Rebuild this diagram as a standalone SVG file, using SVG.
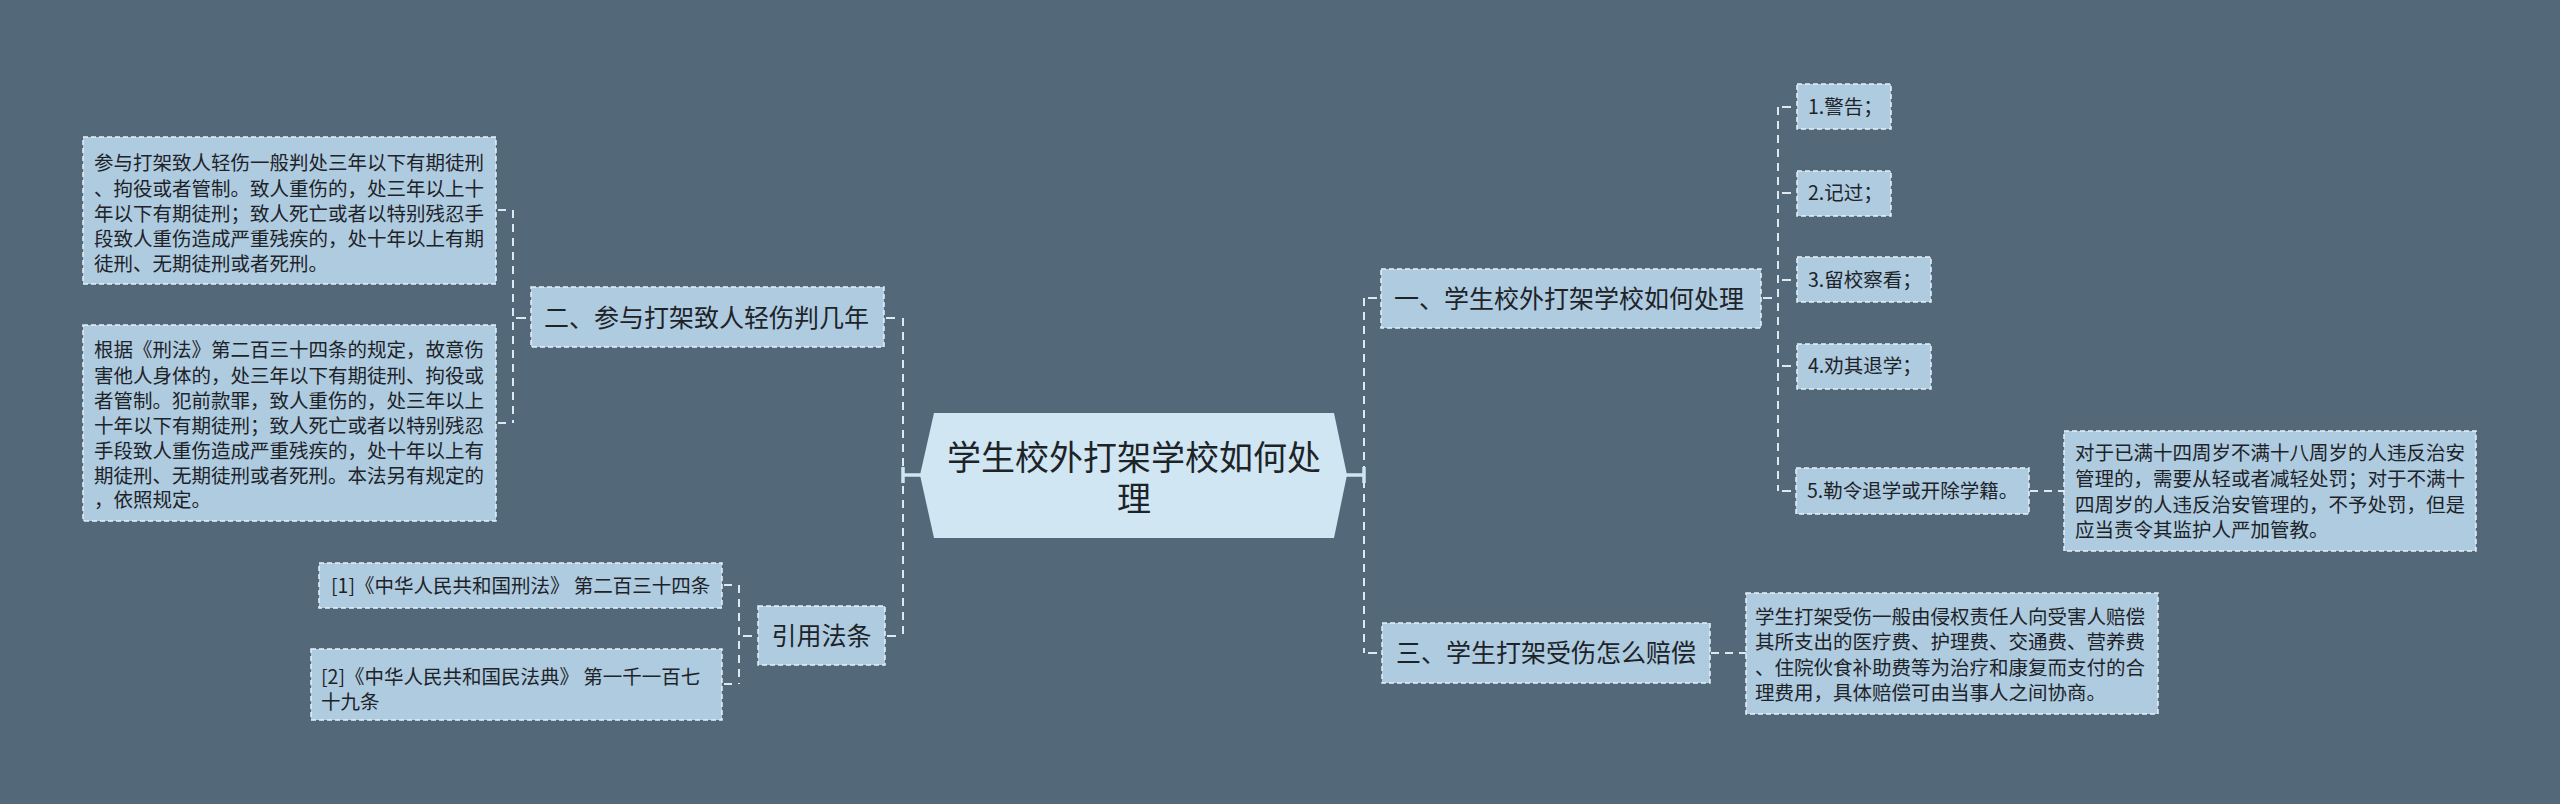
<svg xmlns="http://www.w3.org/2000/svg" width="2560" height="804" viewBox="0 0 2560 804">
<style>
.bg{fill:#536878}
.box{fill:#aecbe0;stroke:#e6f1f8;stroke-width:1.5;stroke-dasharray:5 3}
.root{fill:#d0e6f3}
.t{font-family:"Noto Sans CJK SC","Noto Sans",sans-serif;fill:#1e2328}
.s{font-size:19.5px}
.m{font-size:25px}
.l{font-size:34px}
.dash{fill:none;stroke:#dde9f1;stroke-width:2;stroke-dasharray:8 6}
.tick{fill:none;stroke:#dde9f1;stroke-width:2}
.solid{fill:none;stroke:#cfe5f2;stroke-width:3.5}
</style>
<rect class="bg" x="0" y="0" width="2560" height="804"/>
<g id="connectors">
<path class="dash" d="M513 210 V423"/>
<path class="tick" d="M498 210 H506 M498 423 H506 M516 318 H526"/>
<path class="dash" d="M903 318 V636"/>
<path class="tick" d="M886 318 H895 M887 636 H896"/>
<path class="solid" d="M903 475 H921 M903 467 V483"/>
<path class="dash" d="M739 585 V684"/>
<path class="tick" d="M724 585 H732 M724 684 H732 M743 636 H752"/>
<path class="dash" d="M1364 298 V653"/>
<path class="tick" d="M1368 298 H1377 M1368 653 H1377"/>
<path class="solid" d="M1346 475 H1364 M1364 467 V483"/>
<path class="dash" d="M1778 107 V491"/>
<path class="tick" d="M1763 298 H1772 M1782 107 H1791 M1782 193 H1791 M1782 280 H1791 M1782 366 H1791 M1782 491 H1791"/>
<path class="dash" d="M2030 491 H2064"/>
<path class="dash" d="M1711 653 H1746"/>
</g>
<g id="root">
<polygon class="root" points="934,413 1334,413 1347,475 1334,538 934,538 920,475"/>
<text class="t l" text-anchor="middle"><tspan x="1134" y="470">学生校外打架学校如何处</tspan><tspan x="1134" y="511">理</tspan></text>
</g>
<g id="n2">
<rect class="box" x="531" y="287" width="353" height="60"/>
<text class="t m" x="544" y="327">二、参与打架致人轻伤判几年</text>
</g>
<g id="n2a">
<rect class="box" x="83" y="137" width="413" height="147"/>
<text class="t s" x="94" y="170">参与打架致人轻伤一般判处三年以下有期徒刑</text>
<text class="t s" x="94" y="196">、拘役或者管制。致人重伤的，处三年以上十</text>
<text class="t s" x="94" y="221">年以下有期徒刑；致人死亡或者以特别残忍手</text>
<text class="t s" x="94" y="246">段致人重伤造成严重残疾的，处十年以上有期</text>
<text class="t s" x="94" y="271">徒刑、无期徒刑或者死刑。</text>
</g>
<g id="n2b">
<rect class="box" x="83" y="325" width="413" height="196"/>
<text class="t s" x="94" y="357">根据《刑法》第二百三十四条的规定，故意伤</text>
<text class="t s" x="94" y="383">害他人身体的，处三年以下有期徒刑、拘役或</text>
<text class="t s" x="94" y="408">者管制。犯前款罪，致人重伤的，处三年以上</text>
<text class="t s" x="94" y="433">十年以下有期徒刑；致人死亡或者以特别残忍</text>
<text class="t s" x="94" y="458">手段致人重伤造成严重残疾的，处十年以上有</text>
<text class="t s" x="94" y="483">期徒刑、无期徒刑或者死刑。本法另有规定的</text>
<text class="t s" x="94" y="507">，依照规定。</text>
</g>
<g id="ref">
<rect class="box" x="758" y="606" width="127" height="59"/>
<text class="t m" x="821.5" y="645" text-anchor="middle">引用法条</text>
</g>
<g id="ref1">
<rect class="box" x="319" y="563" width="403" height="45"/>
<text class="t s" x="331" y="593">[1]《中华人民共和国刑法》 第二百三十四条</text>
</g>
<g id="ref2">
<rect class="box" x="311" y="649" width="411" height="71"/>
<text class="t s" x="321" y="684">[2]《中华人民共和国民法典》 第一千一百七</text>
<text class="t s" x="321" y="709">十九条</text>
</g>
<g id="n1">
<rect class="box" x="1381" y="269" width="380" height="59"/>
<text class="t m" x="1394" y="308">一、学生校外打架学校如何处理</text>
</g>
<g id="n1a">
<rect class="box" x="1797" y="84" width="94" height="45"/>
<text class="t s" x="1808" y="114">1.警告；</text>
</g>
<g id="n1b">
<rect class="box" x="1797" y="171" width="94" height="45"/>
<text class="t s" x="1808" y="200">2.记过；</text>
</g>
<g id="n1c">
<rect class="box" x="1797" y="257" width="134" height="45"/>
<text class="t s" x="1808" y="287">3.留校察看；</text>
</g>
<g id="n1d">
<rect class="box" x="1797" y="344" width="134" height="45"/>
<text class="t s" x="1808" y="373">4.劝其退学；</text>
</g>
<g id="n1e">
<rect class="box" x="1796" y="468" width="233" height="46"/>
<text class="t s" x="1807" y="498">5.勒令退学或开除学籍。</text>
</g>
<g id="n1e1">
<rect class="box" x="2064" y="431" width="412" height="120"/>
<text class="t s" x="2075" y="460">对于已满十四周岁不满十八周岁的人违反治安</text>
<text class="t s" x="2075" y="486">管理的，需要从轻或者减轻处罚；对于不满十</text>
<text class="t s" x="2075" y="512">四周岁的人违反治安管理的，不予处罚，但是</text>
<text class="t s" x="2075" y="537">应当责令其监护人严加管教。</text>
</g>
<g id="n3">
<rect class="box" x="1382" y="623" width="328" height="60"/>
<text class="t m" x="1396" y="662">三、学生打架受伤怎么赔偿</text>
</g>
<g id="n3a">
<rect class="box" x="1746" y="593" width="412" height="121"/>
<text class="t s" x="1755" y="624">学生打架受伤一般由侵权责任人向受害人赔偿</text>
<text class="t s" x="1755" y="649">其所支出的医疗费、护理费、交通费、营养费</text>
<text class="t s" x="1755" y="675">、住院伙食补助费等为治疗和康复而支付的合</text>
<text class="t s" x="1755" y="700">理费用，具体赔偿可由当事人之间协商。</text>
</g>
</svg>
